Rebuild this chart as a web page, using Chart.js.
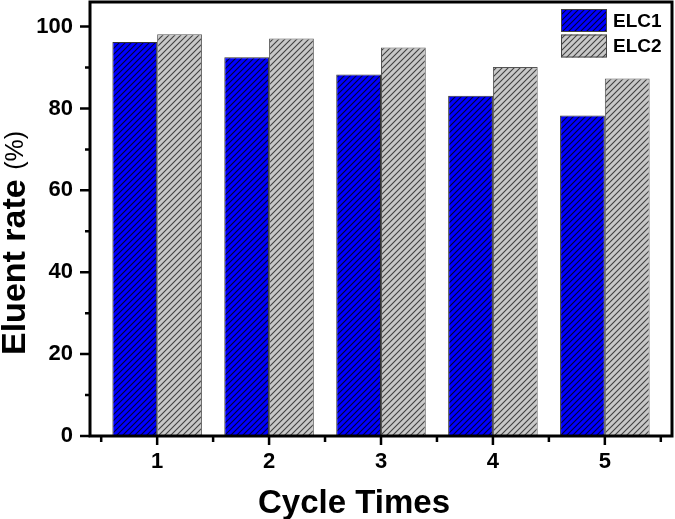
<!DOCTYPE html>
<html>
<head>
<meta charset="utf-8">
<script src="https://cdn.jsdelivr.net/npm/chart.js@4.4.1/dist/chart.umd.min.js"></script>
<style>
  html, body { margin: 0; padding: 0; background: #fff; }
  #wrap { width: 675px; height: 519px; }
</style>
</head>
<body>
<div id="wrap"><canvas id="chart" width="675" height="519"></canvas></div>
<script>
const cycles = [1, 2, 3, 4, 5];
const elc1 = [96.2, 92.5, 88.3, 83.1, 78.3];
const elc2 = [98.1, 97.1, 94.9, 90.1, 87.3];
const yMajor = [0, 20, 40, 60, 80, 100];
const yMinor = [10, 30, 50, 70, 90];
const xMinor = [0.5, 1.5, 2.5, 3.5, 4.5, 5.5];

// diagonal hatch fill
function hatch(bg, line, lw) {
    const s = 6;
    const c = document.createElement("canvas");
    c.width = s; c.height = s;
    const g = c.getContext("2d");
    g.fillStyle = bg;
    g.fillRect(0, 0, s, s);
    g.strokeStyle = line;
    g.lineWidth = lw;
    g.beginPath();
    g.moveTo(0, s); g.lineTo(s, 0);
    g.moveTo(-1, 1); g.lineTo(1, -1);
    g.moveTo(s - 1, s + 1); g.lineTo(s + 1, s - 1);
    g.stroke();
    return g.createPattern(c, "repeat");
}

const blueFill = hatch("#0000ff", "#000033", 1.1);
const grayFill = hatch("#c8c8c8", "#404040", 1.1);

/* frame, ticks, titles and legend */
const decor = {
    id: "decor",
    afterDraw(chart) {
        const ctx = chart.ctx;
        const a = chart.chartArea;
        const x = chart.scales.x, y = chart.scales.y;
        ctx.save();
        ctx.strokeStyle = "#000";
        ctx.lineWidth = 3;
        ctx.strokeRect(a.left, a.top, a.right - a.left, a.bottom - a.top);

        ctx.lineWidth = 2.5;
        ctx.beginPath();
        yMajor.forEach(v => { const p = y.getPixelForValue(v); ctx.moveTo(a.left - 10, p); ctx.lineTo(a.left, p); });
        yMinor.forEach(v => { const p = y.getPixelForValue(v); ctx.moveTo(a.left - 5, p); ctx.lineTo(a.left, p); });
        cycles.forEach(v => { const p = x.getPixelForValue(v); ctx.moveTo(p, a.bottom); ctx.lineTo(p, a.bottom + 9); });
        xMinor.forEach(v => { const p = x.getPixelForValue(v); ctx.moveTo(p, a.bottom); ctx.lineTo(p, a.bottom + 6); });
        ctx.stroke();

        // axis titles
        ctx.fillStyle = "#000";
        ctx.font = "bold 33px 'Liberation Sans', Arial, sans-serif";
        ctx.textAlign = "center";
        ctx.textBaseline = "alphabetic";
        ctx.fillText("Cycle Times", 354, 513);

        ctx.translate(25, 355);
        ctx.rotate(-Math.PI / 2);
        const t1 = "Eluent rate ";
        const t2 = "(%)";
        ctx.textAlign = "left";
        ctx.font = "bold 34px 'Liberation Sans', Arial, sans-serif";
        const w1 = ctx.measureText(t1).width;
        ctx.fillText(t1, 0, 0);
        ctx.font = "25px 'Liberation Sans', Arial, sans-serif";
        ctx.fillText(t2, w1, -2);
        ctx.restore();

        // legend
        ctx.save();
        ctx.font = "bold 19px 'Liberation Sans', Arial, sans-serif";
        ctx.textBaseline = "middle";
        chart.data.datasets.forEach((ds, i) => {
            const bx = 561, by = 9 + i * 25.5, bw = 46, bh = 23;
            ctx.fillStyle = ds.backgroundColor;
            ctx.fillRect(bx, by, bw, bh);
            ctx.strokeStyle = "#444";
            ctx.lineWidth = 1;
            ctx.strokeRect(bx + 0.5, by + 0.5, bw - 1, bh - 1);
            ctx.fillStyle = "#000";
            ctx.fillText(ds.label, 613, by + bh / 2 + 1);
        });
        ctx.restore();
    }
};

new Chart(document.getElementById("chart"), {
    type: "bar",
    data: {
        datasets: [
            { label: "ELC1", data: cycles.map((c, i) => ({ x: c, y: elc1[i] })), backgroundColor: blueFill, borderColor: "#333", borderWidth: 1 },
            { label: "ELC2", data: cycles.map((c, i) => ({ x: c, y: elc2[i] })), backgroundColor: grayFill, borderColor: "#555", borderWidth: 1 }
        ]
    },
    options: {
        responsive: false,
        animation: false,
        layout: { padding: { top: 2, right: 3, left: 0, bottom: 0 } },
        plugins: { legend: { display: false }, tooltip: { enabled: false } },
        datasets: { bar: { categoryPercentage: 0.8, barPercentage: 1.0 } },
        scales: {
            x: {
                type: "linear",
                min: 0.4,
                max: 5.6,
                offset: false,
                afterBuildTicks: s => { s.ticks = cycles.map(v => ({ value: v })); },
                afterFit: s => { s.height = 83; s.paddingLeft = 0; s.paddingRight = 0; },
                grid: { display: false, drawTicks: false },
                border: { display: false },
                ticks: { color: "#000", padding: 13, font: { family: "'Liberation Sans', Arial, sans-serif", size: 22, weight: "bold" } }
            },
            y: {
                min: 0,
                max: 106,
                afterBuildTicks: s => { s.ticks = yMajor.map(v => ({ value: v })); },
                afterFit: s => { s.width = 90; s.paddingTop = 0; s.paddingBottom = 0; },
                grid: { display: false, drawTicks: false },
                border: { display: false },
                ticks: { color: "#000", padding: 17, font: { family: "'Liberation Sans', Arial, sans-serif", size: 22, weight: "bold" } }
            }
        }
    },
    plugins: [decor]
});
</script>
</body>
</html>
